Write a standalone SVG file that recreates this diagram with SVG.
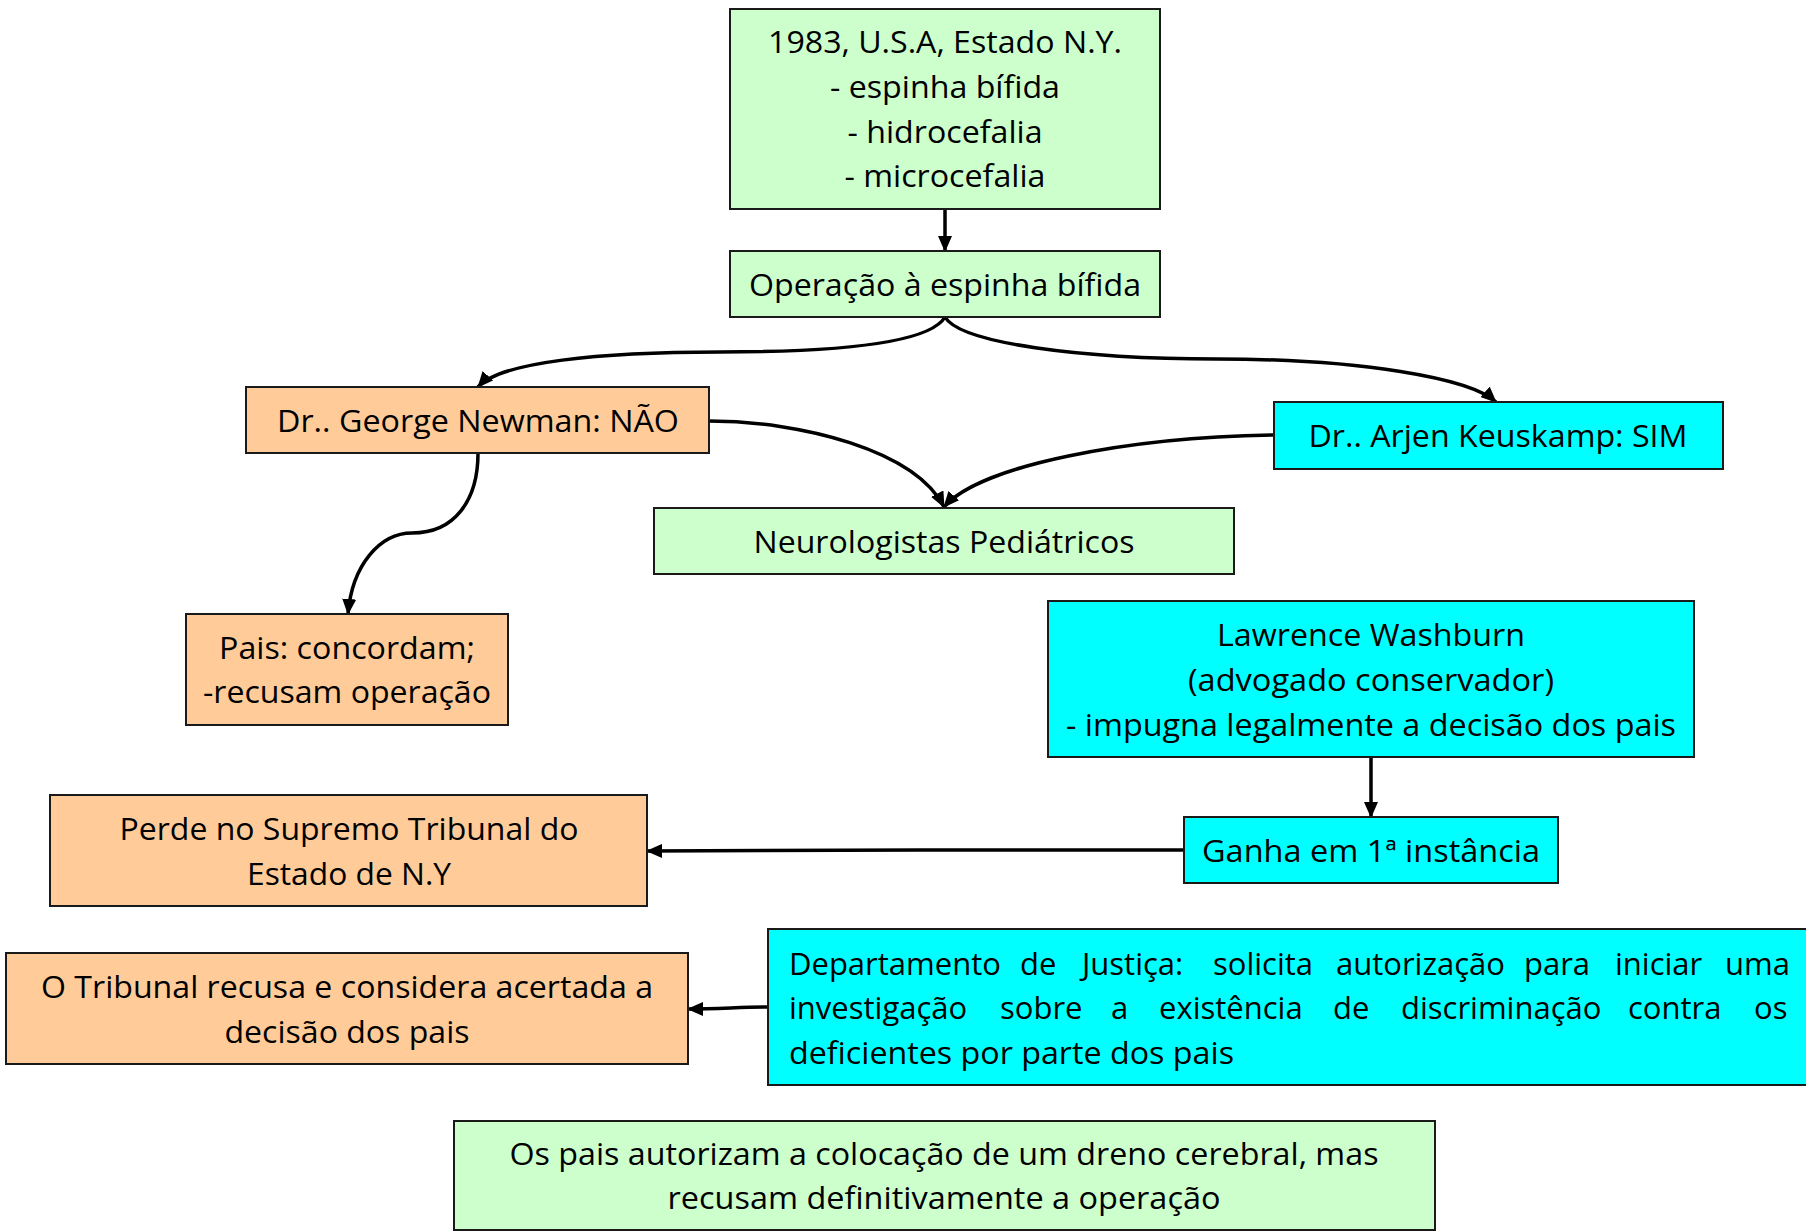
<svg xmlns="http://www.w3.org/2000/svg" width="1806" height="1232" viewBox="0 0 1806 1232">
<defs>
<marker id="ah" markerUnits="userSpaceOnUse" viewBox="0 0 16 14" refX="15" refY="7" markerWidth="16" markerHeight="14" orient="auto">
<path d="M0,0 L16,7 L0,14 z" fill="#000"/>
</marker>
<style>
.box{stroke:#1a1a1a;stroke-width:2}
.g{fill:#CCFFCC}
.o{fill:#FFCC99}
.c{fill:#00FFFF}
text{font-family:"Open Sans","Noto Sans",sans-serif;font-size:31px;fill:#000}
.m{text-anchor:middle}
.conn path{fill:none;stroke:#000;stroke-width:3.5;marker-end:url(#ah)}
</style>
</defs>
<rect width="1806" height="1232" fill="#fff"/>
<g id="connectors" class="conn">
<path d="M945,209 L945,251"/>
<path d="M945,317 C930,343 840,352 720,352 C600,352 500,362 478,387"/>
<path d="M945,317 C960,343 1080,359 1217,359 C1360,359 1470,378 1496,402"/>
<path d="M709,421 C800,421 915,450 944,507"/>
<path d="M1274,435 C1130,437 980,465 944,507"/>
<path d="M478,453 C478,500 455,533 412,533 C380,533 352,565 348,614"/>
<path d="M1371,757 L1371,817"/>
<path d="M1184,850 L921,850 L647,851"/>
<path d="M768,1007 C740,1007 720,1009 688,1009"/>
</g>
<g id="n-top">
<rect class="box g" x="730" y="9" width="430" height="200"/>
<text class="m" x="945" y="53" textLength="354" lengthAdjust="spacingAndGlyphs">1983, U.S.A, Estado N.Y.</text>
<text class="m" x="945" y="98" textLength="230" lengthAdjust="spacingAndGlyphs">- espinha bífida</text>
<text class="m" x="945" y="143" textLength="195" lengthAdjust="spacingAndGlyphs">- hidrocefalia</text>
<text class="m" x="945" y="187" textLength="201" lengthAdjust="spacingAndGlyphs">- microcefalia</text>
</g>
<g id="n-operacao">
<rect class="box g" x="730" y="251" width="430" height="66"/>
<text class="m" x="945" y="296" textLength="392" lengthAdjust="spacingAndGlyphs">Operação à espinha bífida</text>
</g>
<g id="n-newman">
<rect class="box o" x="246" y="387" width="463" height="66"/>
<text class="m" x="478" y="432" textLength="402" lengthAdjust="spacingAndGlyphs">Dr.. George Newman: NÃO</text>
</g>
<g id="n-keuskamp">
<rect class="box c" x="1274" y="402" width="449" height="67"/>
<text class="m" x="1498" y="447" textLength="379" lengthAdjust="spacingAndGlyphs">Dr.. Arjen Keuskamp: SIM</text>
</g>
<g id="n-neuro">
<rect class="box g" x="654" y="508" width="580" height="66"/>
<text class="m" x="944" y="553" textLength="381" lengthAdjust="spacingAndGlyphs">Neurologistas Pediátricos</text>
</g>
<g id="n-pais">
<rect class="box o" x="186" y="614" width="322" height="111"/>
<text class="m" x="347" y="659" textLength="256" lengthAdjust="spacingAndGlyphs">Pais: concordam;</text>
<text class="m" x="347" y="703" textLength="288" lengthAdjust="spacingAndGlyphs">-recusam operação</text>
</g>
<g id="n-lawrence">
<rect class="box c" x="1048" y="601" width="646" height="156"/>
<text class="m" x="1371" y="646" textLength="308" lengthAdjust="spacingAndGlyphs">Lawrence Washburn</text>
<text class="m" x="1371" y="691" textLength="366" lengthAdjust="spacingAndGlyphs">(advogado conservador)</text>
<text class="m" x="1371" y="736" textLength="610" lengthAdjust="spacingAndGlyphs">- impugna legalmente a decisão dos pais</text>
</g>
<g id="n-ganha">
<rect class="box c" x="1184" y="817" width="374" height="66"/>
<text class="m" x="1371" y="862" textLength="338" lengthAdjust="spacingAndGlyphs">Ganha em 1ª instância</text>
</g>
<g id="n-perde">
<rect class="box o" x="50" y="795" width="597" height="111"/>
<text class="m" x="349" y="840" textLength="459" lengthAdjust="spacingAndGlyphs">Perde no Supremo Tribunal do</text>
<text class="m" x="349" y="885" textLength="204" lengthAdjust="spacingAndGlyphs">Estado de N.Y</text>
</g>
<g id="n-tribunal">
<rect class="box o" x="6" y="953" width="682" height="111"/>
<text class="m" x="347" y="998" textLength="612" lengthAdjust="spacingAndGlyphs">O Tribunal recusa e considera acertada a</text>
<text class="m" x="347" y="1043" textLength="245" lengthAdjust="spacingAndGlyphs">decisão dos pais</text>
</g>
<g id="n-departamento">
<rect class="box c" x="768" y="929" width="1050" height="156"/>
<text y="975"><tspan x="789">Departamento</tspan> <tspan x="1020">de</tspan> <tspan x="1082">Justiça:</tspan> <tspan x="1213">solicita</tspan> <tspan x="1336">autorização</tspan> <tspan x="1524">para</tspan> <tspan x="1615">iniciar</tspan> <tspan x="1725">uma</tspan></text>
<text y="1019"><tspan x="789">investigação</tspan> <tspan x="1000">sobre</tspan> <tspan x="1111">a</tspan> <tspan x="1159">existência</tspan> <tspan x="1333">de</tspan> <tspan x="1401">discriminação</tspan> <tspan x="1628">contra</tspan> <tspan x="1754">os</tspan></text>
<text x="789" y="1064" textLength="445" lengthAdjust="spacingAndGlyphs">deficientes por parte dos pais</text>
</g>
<g id="n-ospais">
<rect class="box g" x="454" y="1121" width="981" height="109"/>
<text class="m" x="944" y="1165" textLength="869" lengthAdjust="spacingAndGlyphs">Os pais autorizam a colocação de um dreno cerebral, mas</text>
<text class="m" x="944" y="1209" textLength="553" lengthAdjust="spacingAndGlyphs">recusam definitivamente a operação</text>
</g>
</svg>
